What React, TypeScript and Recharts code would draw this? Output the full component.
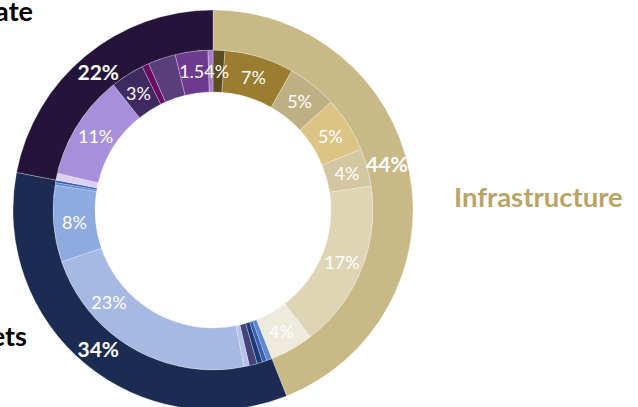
import { PieChart, Pie, Cell } from "recharts";

// outer ring: business lines
const CATEGORIES = ["Infrastructure", "Markets", "Corporate"];
const CATEGORY_SHARES = [44, 34, 22];
const CATEGORY_TEXT = ["44%", "34%", "22%"];
const CATEGORY_COLORS = ["#c9b987", "#1b2b52", "#24143a"];

// inner ring: sub-items, clockwise from 12 o'clock
const SUB_VALUES = [
  // Infrastructure
  1.2, 7.0, 5.0, 5.6, 3.8, 17.0, 4.4,
  // Markets
  0.55, 0.45, 0.55, 0.8, 0.55, 22.85, 7.75, 0.25, 0.25,
  // Corporate
  0.7, 10.6, 3.4, 0.7, 2.8, 3.3, 0.5,
];
const SUB_TEXT = [
  "", "7%", "5%", "5%", "4%", "17%", "4%",
  "", "", "", "", "", "23%", "8%", "", "",
  "", "11%", "3%", "", "", "1.54%", "",
];
const SUB_COLORS = [
  "#5c4c20", "#9a7d2e", "#bfb084", "#dcc386", "#d4c6a0", "#ded5b5", "#eeeadc",
  "#5f88d4", "#3560b0", "#1d3a78", "#46437c", "#b6c2e8", "#a5b9e3", "#8eaadf", "#5b83cf", "#2f5db3",
  "#dcd0f2", "#a78fdc", "#3f2a60", "#6b0a62", "#5b3d7d", "#6d3a8f", "#a67bcb",
];

// label angle tweaks (degrees, counter-clockwise) where the original labels were moved by hand
const OUTER_NUDGE: Record<number, number> = { 0: 4.2 };
const INNER_NUDGE: Record<number, number> = { 12: -18.5, 21: -4.1 };

const outerData = CATEGORIES.map((name, i) => ({ name, value: CATEGORY_SHARES[i] }));
const innerData = SUB_VALUES.map((value, i) => ({ name: `item${i}`, value }));

const RAD = Math.PI / 180;
const FONT = "Lato, 'Noto Sans', sans-serif";

function makeLabel(texts: string[], nudge: Record<number, number>, size: number, weight: number) {
  return (props: any) => {
    const { cx, cy, midAngle, innerRadius, outerRadius, index } = props;
    const t = texts[index];
    if (!t) return null;
    const a = midAngle + (nudge[index] || 0);
    const r = (innerRadius + outerRadius) / 2;
    const x = cx + r * Math.cos(-a * RAD);
    const y = cy + r * Math.sin(-a * RAD);
    return (
      <text
        x={x}
        y={y}
        fill="#fff"
        textAnchor="middle"
        dominantBaseline="central"
        fontSize={size}
        fontWeight={weight}
        fontFamily={FONT}
      >
        {t}
      </text>
    );
  };
}

export default function App() {
  return (
    <div style={{ position: "absolute", left: 0, top: 0, width: 638, height: 407, background: "#fff", overflow: "hidden" }}>
      <PieChart width={638} height={407} margin={{ top: 0, right: 0, bottom: 0, left: 0 }}>
        <Pie
          data={innerData}
          dataKey="value"
          cx={213}
          cy={210}
          innerRadius={118}
          outerRadius={160}
          startAngle={90}
          endAngle={-270}
          stroke="rgba(255,255,255,0.45)"
          strokeWidth={0.6}
          labelLine={false}
          label={makeLabel(SUB_TEXT, INNER_NUDGE, 18, 400)}
          isAnimationActive={false}
        >
          {innerData.map((_, i) => (
            <Cell key={i} fill={SUB_COLORS[i]} />
          ))}
        </Pie>
        <Pie
          data={outerData}
          dataKey="value"
          cx={213}
          cy={210}
          innerRadius={160}
          outerRadius={200}
          startAngle={90}
          endAngle={-270}
          stroke="rgba(255,255,255,0.45)"
          strokeWidth={0.6}
          labelLine={false}
          label={makeLabel(CATEGORY_TEXT, OUTER_NUDGE, 21, 700)}
          isAnimationActive={false}
        >
          {outerData.map((_, i) => (
            <Cell key={i} fill={CATEGORY_COLORS[i]} />
          ))}
        </Pie>
        <text x={33} y={21} textAnchor="end" fontSize={27} fontWeight={700} fontFamily={FONT} fill="#000">
          {CATEGORIES[2]}
        </text>
        <text x={27} y={346} textAnchor="end" fontSize={27} fontWeight={700} fontFamily={FONT} fill="#000">
          {CATEGORIES[1]}
        </text>
        <text x={454} y={207} textAnchor="start" fontSize={27.5} fontWeight={700} fontFamily={FONT} fill="#b9a466">
          {CATEGORIES[0]}
        </text>
      </PieChart>
    </div>
  );
}
